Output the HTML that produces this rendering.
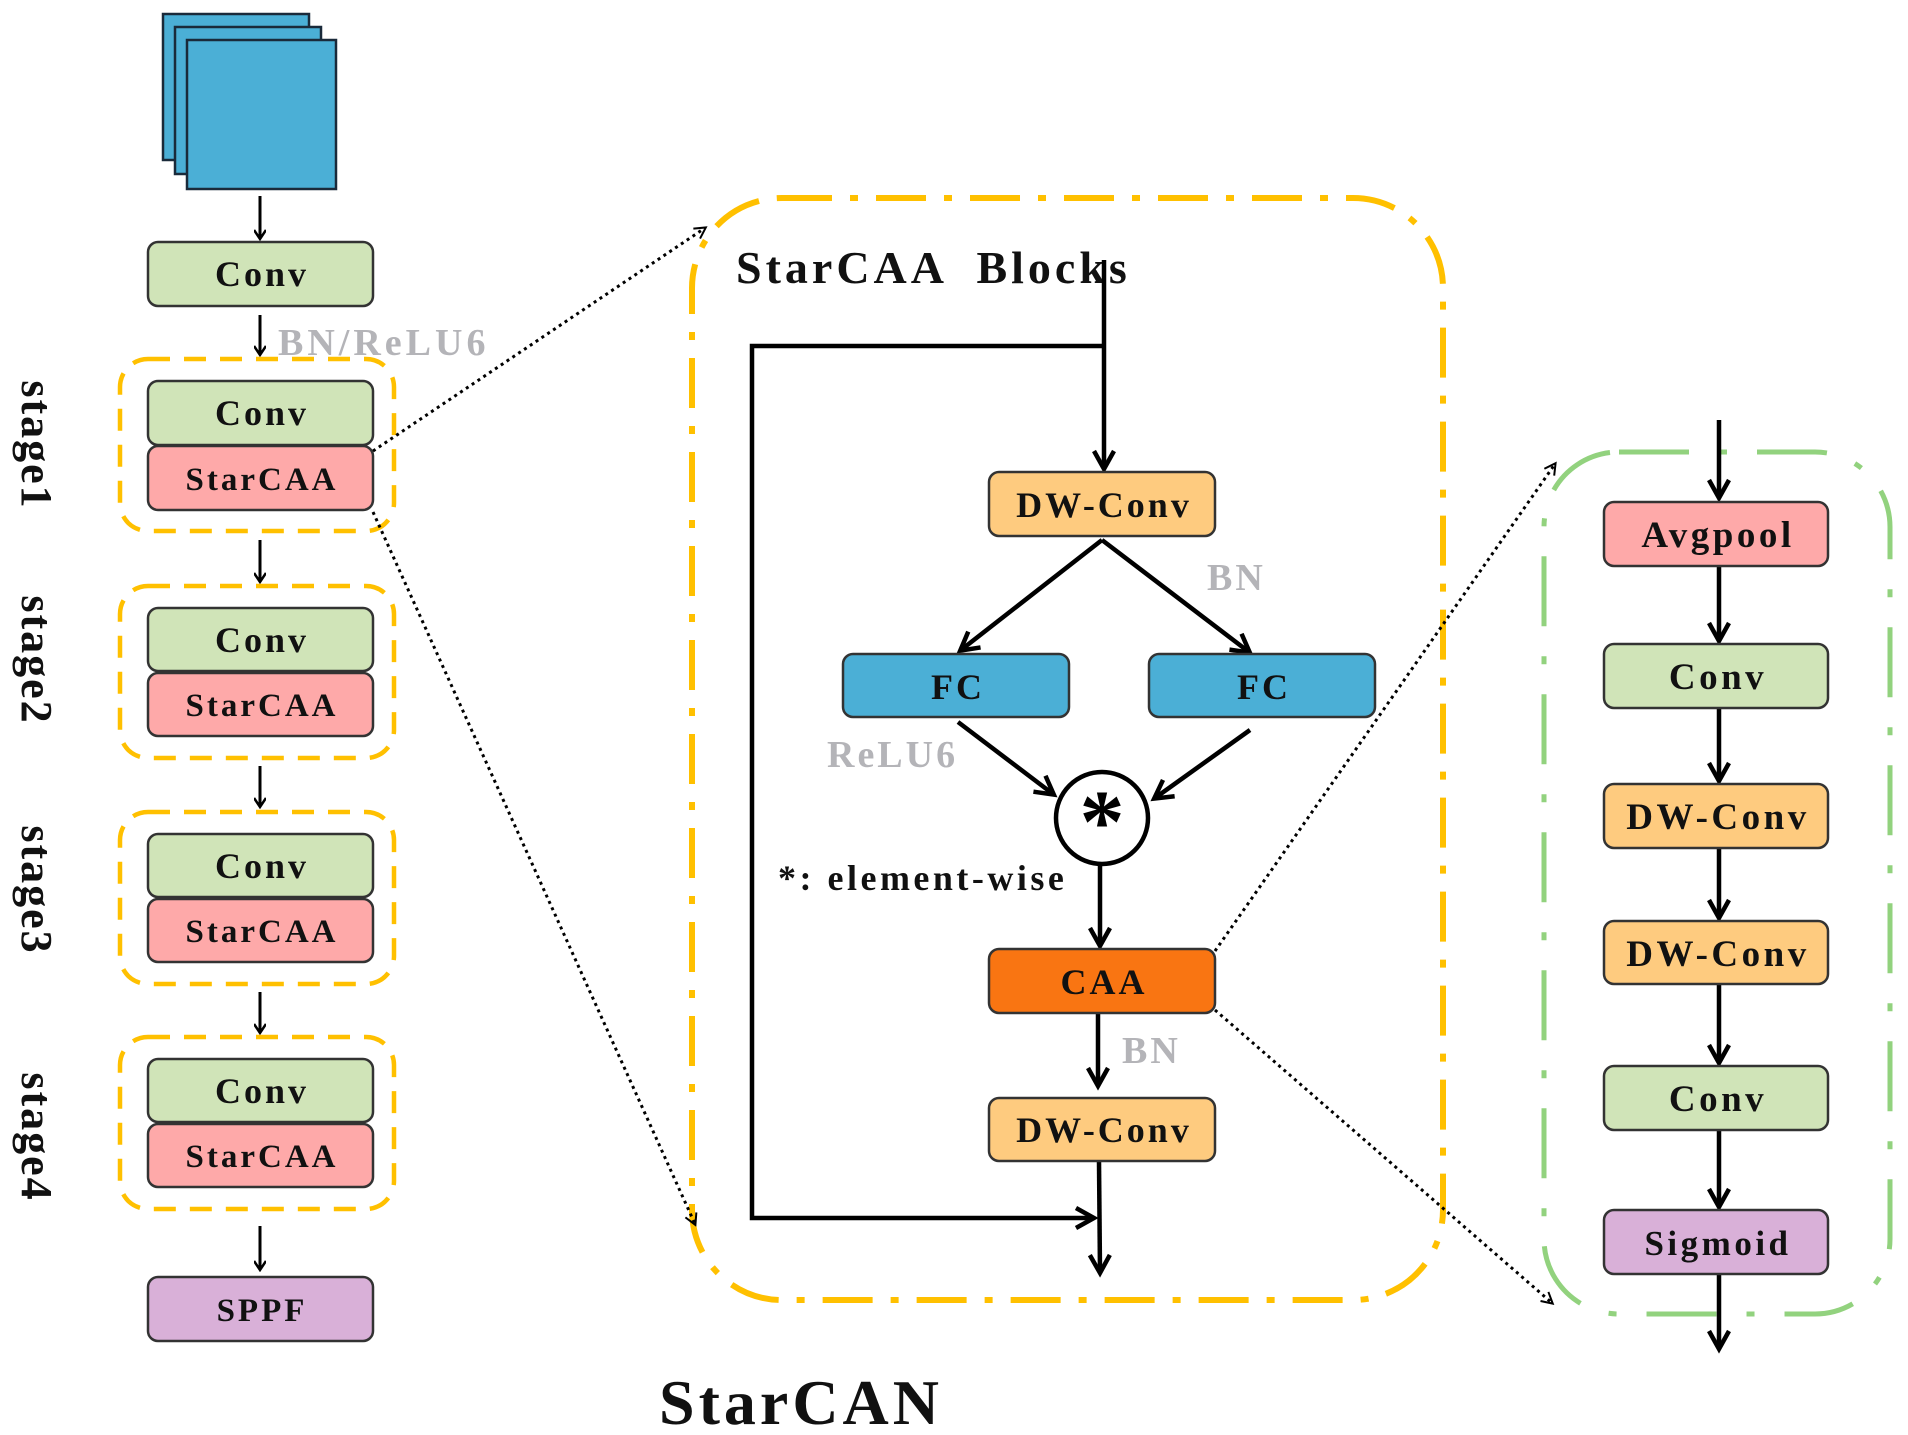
<!DOCTYPE html>
<html><head><meta charset="utf-8"><style>
html,body{margin:0;padding:0;background:#fff}
svg{display:block}
text{font-family:"Liberation Serif",serif;font-weight:bold}
</style></head><body>
<svg width="1908" height="1435" viewBox="0 0 1908 1435" xmlns="http://www.w3.org/2000/svg">
<defs>
<marker id="ah" markerWidth="12" markerHeight="12" refX="9" refY="6" orient="auto" markerUnits="userSpaceOnUse">
<polyline points="1,0 10,6 1,12" fill="none" stroke="#000" stroke-width="2.5"/></marker>
<marker id="ahb" markerWidth="26" markerHeight="26" refX="20" refY="13" orient="auto" markerUnits="userSpaceOnUse">
<polyline points="3,3 21,13 3,23" fill="none" stroke="#000" stroke-width="4.5"/></marker>
<marker id="ahd" markerWidth="14" markerHeight="14" refX="11" refY="7" orient="auto" markerUnits="userSpaceOnUse">
<polyline points="1,1 12,7 1,13" fill="none" stroke="#000" stroke-width="2"/></marker>
</defs>

<!-- feature maps -->
<rect x="163" y="14" width="146" height="146" fill="#4bafd6" stroke="#1a2a3a" stroke-width="2.5"/>
<rect x="175" y="27" width="146" height="147" fill="#4bafd6" stroke="#1a2a3a" stroke-width="2.5"/>
<rect x="187" y="40" width="149" height="149" fill="#4bafd6" stroke="#1a2a3a" stroke-width="2.5"/>

<g stroke="#000" stroke-width="3" marker-end="url(#ah)">
<line x1="260" y1="196" x2="260" y2="238"/>
<line x1="260" y1="315" x2="260" y2="354"/>
<line x1="260" y1="540" x2="260" y2="581"/>
<line x1="260" y1="766" x2="260" y2="806"/>
<line x1="260" y1="992" x2="260" y2="1032"/>
<line x1="260" y1="1226" x2="260" y2="1269"/>
</g>

<g stroke="#333" stroke-width="2.5">
<rect x="148" y="242" width="225" height="64" rx="10" fill="#d0e4b8"/>
<rect x="148" y="381" width="225" height="64" rx="10" fill="#d0e4b8"/>
<rect x="148" y="446" width="225" height="64" rx="10" fill="#fea9a9"/>
<rect x="148" y="608" width="225" height="63" rx="10" fill="#d0e4b8"/>
<rect x="148" y="673" width="225" height="63" rx="10" fill="#fea9a9"/>
<rect x="148" y="834" width="225" height="63" rx="10" fill="#d0e4b8"/>
<rect x="148" y="899" width="225" height="63" rx="10" fill="#fea9a9"/>
<rect x="148" y="1059" width="225" height="63" rx="10" fill="#d0e4b8"/>
<rect x="148" y="1124" width="225" height="63" rx="10" fill="#fea9a9"/>
<rect x="148" y="1277" width="225" height="64" rx="10" fill="#d9b0d8"/>
</g>
<g fill="none" stroke="#ffc000" stroke-width="4.5" stroke-dasharray="22,14">
<rect x="120" y="359" width="274" height="172" rx="28"/>
<rect x="120" y="586" width="274" height="172" rx="28"/>
<rect x="120" y="812" width="274" height="172" rx="28"/>
<rect x="120" y="1037" width="274" height="172" rx="28"/>
</g>
<g font-size="36" text-anchor="middle" fill="#111" letter-spacing="3">
<text x="262" y="286">Conv</text>
<text x="262" y="425">Conv</text>
<text x="262" y="490" font-size="33">StarCAA</text>
<text x="262" y="652">Conv</text>
<text x="262" y="716" font-size="33">StarCAA</text>
<text x="262" y="878">Conv</text>
<text x="262" y="942" font-size="33">StarCAA</text>
<text x="262" y="1103">Conv</text>
<text x="262" y="1167" font-size="33">StarCAA</text>
<text x="262" y="1321" font-size="33">SPPF</text>
</g>
<text x="278" y="355" font-size="38" fill="#b4b4b8" letter-spacing="4">BN/ReLU6</text>
<g font-size="44" text-anchor="middle" fill="#111" letter-spacing="2">
<text transform="translate(22,445) rotate(90)">stage1</text>
<text transform="translate(22,660) rotate(90)">stage2</text>
<text transform="translate(22,890) rotate(90)">stage3</text>
<text transform="translate(22,1137) rotate(90)">stage4</text>
</g>

<!-- middle block -->
<rect x="692" y="198" width="751" height="1102" rx="90" fill="none" stroke="#ffc000" stroke-width="6" stroke-dasharray="50,18,8,18"/>
<text x="736" y="283" font-size="46" fill="#111" letter-spacing="4" xml:space="preserve">StarCAA  Blocks</text>
<g stroke="#000" stroke-width="4.5" fill="none">
<line x1="1104" y1="260" x2="1104" y2="468" marker-end="url(#ahb)"/>
<polyline points="1104,346 752,346 752,1218 1093,1218" marker-end="url(#ahb)"/>
<line x1="1102" y1="540" x2="961" y2="650" marker-end="url(#ahb)"/>
<line x1="1102" y1="540" x2="1249" y2="652" marker-end="url(#ahb)"/>
<line x1="958" y1="722" x2="1053" y2="794" marker-end="url(#ahb)"/>
<line x1="1250" y1="730" x2="1155" y2="798" marker-end="url(#ahb)"/>
<line x1="1100" y1="864" x2="1100" y2="945" marker-end="url(#ahb)"/>
<line x1="1098" y1="1014" x2="1098" y2="1085" marker-end="url(#ahb)"/>
<line x1="1099" y1="1162" x2="1100" y2="1272" marker-end="url(#ahb)"/>
<circle cx="1102" cy="818" r="46" fill="#fff"/>
</g>
<text x="1102" y="852" font-size="90" text-anchor="middle" fill="#000">*</text>
<g stroke="#333" stroke-width="2.5">
<rect x="989" y="472" width="226" height="64" rx="10" fill="#fecb7f"/>
<rect x="843" y="654" width="226" height="63" rx="10" fill="#4bafd6"/>
<rect x="1149" y="654" width="226" height="63" rx="10" fill="#4bafd6"/>
<rect x="989" y="949" width="226" height="64" rx="10" fill="#f97512"/>
<rect x="989" y="1098" width="226" height="63" rx="10" fill="#fecb7f"/>
</g>
<g font-size="36" text-anchor="middle" fill="#111" letter-spacing="3">
<text x="1104" y="517">DW-Conv</text>
<text x="958" y="699">FC</text>
<text x="1264" y="699">FC</text>
<text x="1104" y="994">CAA</text>
<text x="1104" y="1142">DW-Conv</text>
</g>
<g font-size="38" fill="#b4b4b8" letter-spacing="3">
<text x="1207" y="590">BN</text>
<text x="827" y="767">ReLU6</text>
<text x="1122" y="1063">BN</text>
</g>
<text x="778" y="890" font-size="36" fill="#111" letter-spacing="3.5">*: element-wise</text>

<!-- right block -->
<rect x="1544" y="452" width="346" height="862" rx="75" fill="none" stroke="#92d27e" stroke-width="5" stroke-dasharray="70,30,8,30"/>
<g stroke="#000" stroke-width="4.5" marker-end="url(#ahb)">
<line x1="1719" y1="420" x2="1719" y2="497"/>
<line x1="1719" y1="567" x2="1719" y2="640"/>
<line x1="1719" y1="708" x2="1719" y2="780"/>
<line x1="1719" y1="848" x2="1719" y2="917"/>
<line x1="1719" y1="983" x2="1719" y2="1062"/>
<line x1="1719" y1="1130" x2="1719" y2="1206"/>
<line x1="1719" y1="1274" x2="1719" y2="1348"/>
</g>
<g stroke="#333" stroke-width="2.5">
<rect x="1604" y="502" width="224" height="64" rx="10" fill="#fea9a9"/>
<rect x="1604" y="644" width="224" height="64" rx="10" fill="#d0e4b8"/>
<rect x="1604" y="784" width="224" height="64" rx="10" fill="#fecb7f"/>
<rect x="1604" y="921" width="224" height="63" rx="10" fill="#fecb7f"/>
<rect x="1604" y="1066" width="224" height="64" rx="10" fill="#d0e4b8"/>
<rect x="1604" y="1210" width="224" height="64" rx="10" fill="#d9b0d8"/>
</g>
<g font-size="37" text-anchor="middle" fill="#111" letter-spacing="3.5">
<text x="1718" y="547">Avgpool</text>
<text x="1718" y="689">Conv</text>
<text x="1718" y="829">DW-Conv</text>
<text x="1718" y="966">DW-Conv</text>
<text x="1718" y="1111">Conv</text>
<text x="1718" y="1255" font-size="35">Sigmoid</text>
</g>

<!-- dotted connectors -->
<g stroke="#000" stroke-width="3" stroke-dasharray="3,4" fill="none" marker-end="url(#ahd)">
<line x1="373" y1="451" x2="705" y2="228"/>
<line x1="373" y1="512" x2="695" y2="1224"/>
<line x1="1215" y1="951" x2="1555" y2="464"/>
<line x1="1215" y1="1010" x2="1552" y2="1303"/>
</g>

<text x="659" y="1424" font-size="64" fill="#111" letter-spacing="4">StarCAN</text>
</svg>
</body></html>
